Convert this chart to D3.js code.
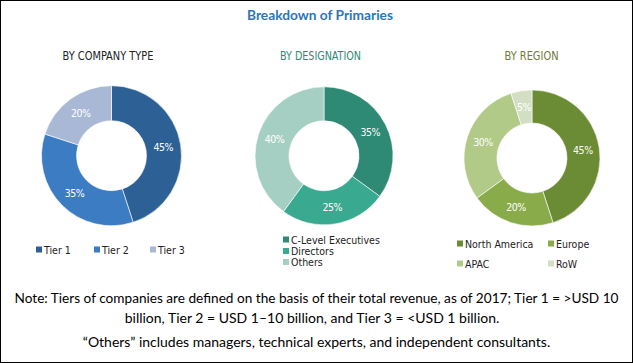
<!DOCTYPE html>
<html><head><meta charset="utf-8">
<script src="https://cdn.jsdelivr.net/npm/d3@7"></script>
<style>
body{margin:0;background:#fff;}
svg{display:block;}
</style></head>
<body>
<svg id="c" width="633" height="363"></svg>
<script>
const title = "Breakdown of Primaries";
const companyLabels = ["Tier 1","Tier 2","Tier 3"];
const companyValues = [45,35,20];
const companyColors = ["#2d6195","#3b7cc2","#a8b8d5"];
const designationLabels = ["C-Level Executives","Directors","Others"];
const designationValues = [35,25,40];
const designationColors = ["#2e8a74","#39a98f","#a6cfc4"];
const regionLabels = ["North America","Europe","APAC","RoW"];
const regionValues = [45,20,30,5];
const regionColors = ["#6b8b34","#8aab4a","#b1ca88","#d3dfc2"];
const note1 = "Note: Tiers of companies are defined on the basis of their total revenue, as of 2017; Tier 1 = >USD 10";
const note2 = "billion, Tier 2 = USD 1\u201310 billion, and Tier 3 = <USD 1 billion.";
const note3 = "\u201cOthers\u201d includes managers, technical experts, and independent consultants.";

const svg = d3.select("#c");
svg.append("rect").attr("x",0.5).attr("y",0.5).attr("width",632).attr("height",362)
  .attr("fill","#fff").attr("stroke","#000").attr("stroke-width",1);

svg.append("text").attr("x",320).attr("y",20).attr("text-anchor","middle")
  .attr("font-family","Lato, 'Open Sans', sans-serif").attr("font-weight","bold")
  .attr("font-size",14).attr("fill","#2e75b6")
  .attr("textLength",146).attr("lengthAdjust","spacingAndGlyphs").text(title);

const charts = [
  {sub:"BY COMPANY TYPE", subX:108, subW:91, subColor:"#222", cx:111.5, cy:155.7, r:70, labels:companyLabels, values:companyValues, colors:companyColors},
  {sub:"BY DESIGNATION", subX:320.5, subW:81, subColor:"#2e8a74", cx:324, cy:155.8, r:69, labels:designationLabels, values:designationValues, colors:designationColors},
  {sub:"BY REGION", subX:531.5, subW:54, subColor:"#6f7a3a", cx:532, cy:158, r:68, labels:regionLabels, values:regionValues, colors:regionColors}
];

charts.forEach((c)=>{
  svg.append("text").attr("x",c.subX).attr("y",60).attr("text-anchor","middle")
    .attr("font-family","'DejaVu Sans Condensed','DejaVu Sans',sans-serif").attr("font-weight","300")
    .attr("font-size",12).attr("fill",c.subColor)
    .attr("textLength",c.subW).attr("lengthAdjust","spacingAndGlyphs").text(c.sub);
  const pie = d3.pie().sort(null).value(d=>d)(c.values);
  const arc = d3.arc().innerRadius(35).outerRadius(c.r);
  const g = svg.append("g").attr("transform",`translate(${c.cx},${c.cy})`);
  g.selectAll("path").data(pie).join("path").attr("d",arc)
    .attr("fill",(d,i)=>c.colors[i]).attr("stroke","#fff").attr("stroke-width",0.6);
  const la = d3.arc().innerRadius((35+c.r)/2).outerRadius((35+c.r)/2);
  g.selectAll("text").data(pie).join("text")
    .attr("transform",d=>`translate(${la.centroid(d)})`)
    .attr("text-anchor","middle").attr("dy","0.35em")
    .attr("font-family","'DejaVu Sans Condensed','DejaVu Sans',sans-serif")
    .attr("font-size",10.5).attr("fill","#fff").attr("letter-spacing","-0.5")
    .text(d=>d.data+"%");
});

function legendItem(x,y,color,label){
  svg.append("rect").attr("x",x).attr("y",y-3.5).attr("width",6).attr("height",6).attr("fill",color);
  svg.append("text").attr("x",x+8).attr("y",y).attr("dy","0.35em")
    .attr("font-family","'DejaVu Sans Condensed','DejaVu Sans',sans-serif")
    .attr("font-size",10.5).attr("fill","#222").text(label);
}
[36,94,150].forEach((x,i)=>legendItem(x,250,companyColors[i],companyLabels[i]));
[240,251.5,262.5].forEach((y,i)=>legendItem(283,y,designationColors[i],designationLabels[i]));
legendItem(457,244,regionColors[0],regionLabels[0]);
legendItem(548,244,regionColors[1],regionLabels[1]);
legendItem(457,264,regionColors[2],regionLabels[2]);
legendItem(548,264,regionColors[3],regionLabels[3]);

const nf = "Lato, 'Open Sans', sans-serif";
svg.append("text").attr("x",316.5).attr("y",303).attr("text-anchor","middle").attr("font-family",nf)
  .attr("font-size",14).attr("fill","#000").attr("textLength",604).attr("lengthAdjust","spacingAndGlyphs").text(note1);
svg.append("text").attr("x",312).attr("y",323).attr("text-anchor","middle").attr("font-family",nf)
  .attr("font-size",14).attr("fill","#000").text(note2);
svg.append("text").attr("x",316.5).attr("y",347).attr("text-anchor","middle").attr("font-family",nf)
  .attr("font-size",14).attr("fill","#000").text(note3);
</script>
</body></html>
